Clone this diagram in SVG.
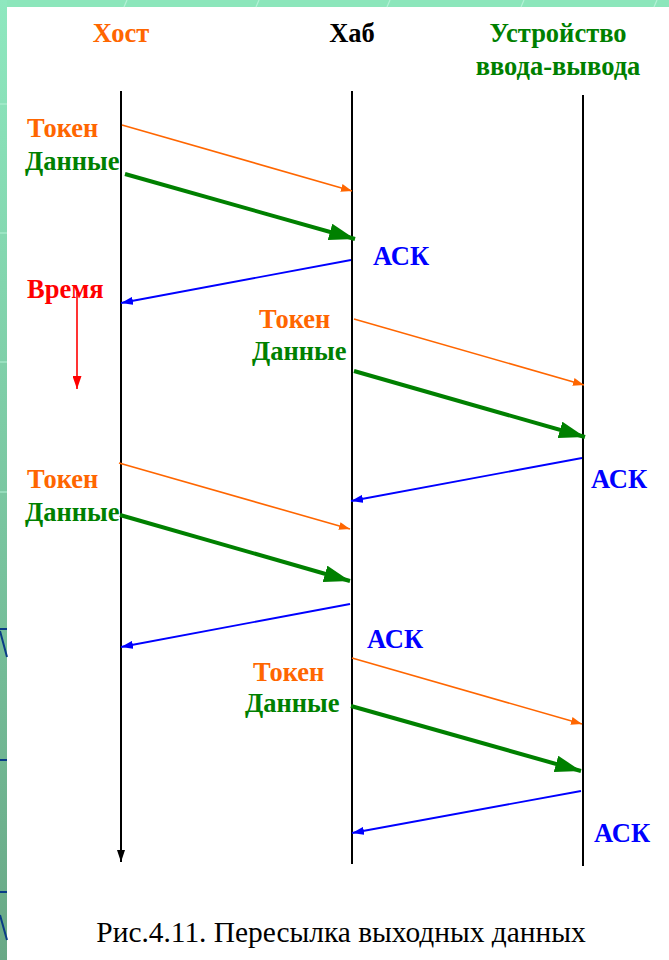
<svg xmlns="http://www.w3.org/2000/svg" width="669" height="960" viewBox="0 0 669 960">
  <defs>
    <linearGradient id="strip" x1="0" y1="0" x2="0" y2="1">
      <stop offset="0" stop-color="#8ee8bf"/>
      <stop offset="1" stop-color="#69a886"/>
    </linearGradient>
    <marker id="headOrange" viewBox="0 0 11 8" refX="11" refY="4" markerWidth="11" markerHeight="8" markerUnits="userSpaceOnUse" orient="auto">
      <path d="M0,0 L11,4 L0,8 Z" fill="#ff6600"/>
    </marker>
    <marker id="headGreen" viewBox="0 0 26 17" refX="26" refY="8.5" markerWidth="26" markerHeight="17" markerUnits="userSpaceOnUse" orient="auto">
      <path d="M0,0 L26,8.5 L0,17 Z" fill="#008000"/>
    </marker>
    <marker id="headBlue" viewBox="0 0 12 8" refX="12" refY="4" markerWidth="12" markerHeight="8" markerUnits="userSpaceOnUse" orient="auto">
      <path d="M0,0 L12,4 L0,8 Z" fill="#0000ff"/>
    </marker>
    <marker id="headBlack" viewBox="0 0 12 8" refX="12" refY="4" markerWidth="12" markerHeight="8" markerUnits="userSpaceOnUse" orient="auto">
      <path d="M0,0 L12,4 L0,8 Z" fill="#000"/>
    </marker>
    <marker id="headRed" viewBox="0 0 13 9" refX="13" refY="4.5" markerWidth="13" markerHeight="9" markerUnits="userSpaceOnUse" orient="auto">
      <path d="M0,0 L13,4.5 L0,9 Z" fill="#ff0000"/>
    </marker>
  </defs>
  <style>
    text { font-family: "Liberation Serif", "Times New Roman", serif; }
    .lbl { font-size: 26.5px; font-weight: bold; }
    .orange { fill: #ff6600; }
    .green { fill: #008000; }
    .blue { fill: #0000ff; }
    .red { fill: #ff0000; }
    .black { fill: #000; }
    .life { stroke: #000; stroke-width: 2; fill: none; }
    .tok { stroke: #ff6600; stroke-width: 1.6; fill: none; marker-end: url(#headOrange); }
    .dat { stroke: #008000; stroke-width: 4; fill: none; marker-end: url(#headGreen); }
    .ack { stroke: #0000ff; stroke-width: 1.8; fill: none; marker-end: url(#headBlue); }
    .deco { stroke: #0a3c86; stroke-width: 2; fill: none; }
    .faint { stroke: #b4f2d6; stroke-width: 1.2; fill: none; }
    .caption { font-size: 29.4px; fill: #000; }
  </style>

  <!-- page frame -->
  <g id="frame">
    <rect x="0" y="0" width="669" height="960" fill="#ffffff"/>
    <rect x="0" y="0" width="669" height="7" fill="#8ce6bb"/>
    <rect x="0" y="0" width="7" height="960" fill="url(#strip)"/>
    <path class="faint" d="M0,104 H7 M0,233 H7 M0,362 H7 M0,492 H7 M124,7 L127,0 M256,7 L259,0 M387,7 L390,0 M521,7 L524,0 M654,7 L657,0"/>
    <path class="deco" d="M0,629 H7 M0,631 L7,657 M0,760 H7 M0,892 H7 M0,915 L7,940"/>
  </g>

  <!-- column headers and lifelines -->
  <g id="host">
    <text class="lbl orange" x="121" y="42" text-anchor="middle">Хост</text>
    <line class="life" x1="121" y1="91" x2="121" y2="862" marker-end="url(#headBlack)"/>
  </g>
  <g id="hub">
    <text class="lbl black" x="352" y="42" text-anchor="middle">Хаб</text>
    <line class="life" x1="352" y1="91" x2="352" y2="864"/>
  </g>
  <g id="device">
    <text class="lbl green" x="558" y="42" text-anchor="middle">Устройство</text>
    <text class="lbl green" x="558" y="75" text-anchor="middle">ввода-вывода</text>
    <line class="life" x1="583" y1="95" x2="583" y2="866"/>
  </g>

  <!-- time axis -->
  <g id="time">
    <text class="lbl red" x="27" y="298">Время</text>
    <line x1="77" y1="292" x2="77" y2="389" stroke="#ff0000" stroke-width="1.6" marker-end="url(#headRed)"/>
  </g>

  <!-- message labels -->
  <g id="labels">
    <text class="lbl orange" x="27" y="137">Токен</text>
    <text class="lbl green" x="25" y="170">Данные</text>
    <text class="lbl blue" x="373" y="265">АСК</text>

    <text class="lbl orange" x="259" y="328">Токен</text>
    <text class="lbl green" x="252" y="360">Данные</text>
    <text class="lbl blue" x="591" y="488">АСК</text>

    <text class="lbl orange" x="27" y="488">Токен</text>
    <text class="lbl green" x="25" y="521">Данные</text>
    <text class="lbl blue" x="367" y="648">АСК</text>

    <text class="lbl orange" x="253" y="681">Токен</text>
    <text class="lbl green" x="245" y="712">Данные</text>
    <text class="lbl blue" x="594" y="842">АСК</text>
  </g>

  <!-- messages -->
  <g id="connectors">
    <line class="tok" x1="122" y1="125" x2="352" y2="191"/>
    <line class="dat" x1="125" y1="174" x2="355" y2="239"/>
    <line class="ack" x1="351" y1="260" x2="121" y2="303"/>

    <line class="tok" x1="354" y1="319" x2="584" y2="385"/>
    <line class="dat" x1="354" y1="371" x2="585" y2="437"/>
    <line class="ack" x1="582" y1="458" x2="351" y2="501"/>

    <line class="tok" x1="119" y1="463" x2="350" y2="529"/>
    <line class="dat" x1="120" y1="515" x2="350" y2="581"/>
    <line class="ack" x1="350" y1="604" x2="121" y2="647"/>

    <line class="tok" x1="352" y1="658" x2="582" y2="724"/>
    <line class="dat" x1="351" y1="706" x2="581" y2="771"/>
    <line class="ack" x1="581" y1="791" x2="352" y2="833"/>
  </g>

  <text class="caption" x="341" y="942" text-anchor="middle">Рис.4.11. Пересылка выходных данных</text>
</svg>
